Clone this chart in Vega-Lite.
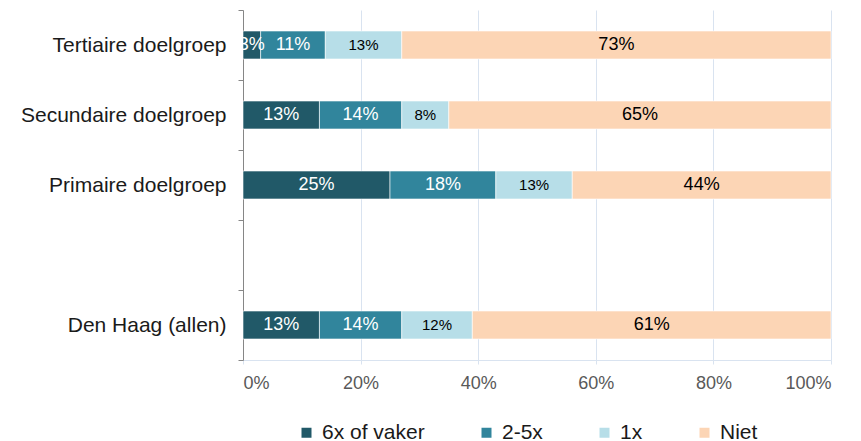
{
  "$schema": "https://vega.github.io/schema/vega-lite/v6.json",
  "width": 588,
  "height": 350,
  "padding": {"left": 20, "top": -1, "right": 5, "bottom": 0},
  "data": {
    "values": [
      {"groep": "Tertiaire doelgroep", "serie": "6x of vaker", "waarde": 0.03},
      {"groep": "Tertiaire doelgroep", "serie": "2-5x", "waarde": 0.11},
      {"groep": "Tertiaire doelgroep", "serie": "1x", "waarde": 0.13},
      {"groep": "Tertiaire doelgroep", "serie": "Niet", "waarde": 0.73},
      {"groep": "Secundaire doelgroep", "serie": "6x of vaker", "waarde": 0.13},
      {"groep": "Secundaire doelgroep", "serie": "2-5x", "waarde": 0.14},
      {"groep": "Secundaire doelgroep", "serie": "1x", "waarde": 0.08},
      {"groep": "Secundaire doelgroep", "serie": "Niet", "waarde": 0.65},
      {"groep": "Primaire doelgroep", "serie": "6x of vaker", "waarde": 0.25},
      {"groep": "Primaire doelgroep", "serie": "2-5x", "waarde": 0.18},
      {"groep": "Primaire doelgroep", "serie": "1x", "waarde": 0.13},
      {"groep": "Primaire doelgroep", "serie": "Niet", "waarde": 0.44},
      {"groep": "Den Haag (allen)", "serie": "6x of vaker", "waarde": 0.13},
      {"groep": "Den Haag (allen)", "serie": "2-5x", "waarde": 0.14},
      {"groep": "Den Haag (allen)", "serie": "1x", "waarde": 0.12},
      {"groep": "Den Haag (allen)", "serie": "Niet", "waarde": 0.61}
    ]
  },
  "transform": [
    {"calculate": "indexof(['6x of vaker','2-5x','1x','Niet'], datum.serie)", "as": "volg"},
    {"stack": "waarde", "groupby": ["groep"], "sort": [{"field": "volg", "order": "ascending"}], "as": ["x0", "x1"]},
    {"calculate": "(datum.x0 + datum.x1) / 2", "as": "xm"}
  ],
  "encoding": {
    "y": {
      "field": "groep",
      "type": "nominal",
      "title": null,
      "scale": {
        "domain": ["Tertiaire doelgroep", "Secundaire doelgroep", "Primaire doelgroep", " ", "Den Haag (allen)"],
        "paddingInner": 0,
        "paddingOuter": 0
      },
      "axis": {
        "tickBand": "extent",
        "domainColor": "#868686",
        "tickColor": "#868686",
        "tickSize": 5,
        "labelPadding": 12,
        "labelFontSize": 21,
        "labelLimit": 400,
        "labelColor": "#1a1a1a",
        "labelFont": "Liberation Sans",
        "grid": false
      }
    }
  },
  "layer": [
    {
      "mark": {"type": "bar", "size": 28, "stroke": "white", "strokeWidth": 0.6},
      "encoding": {
        "x": {
          "field": "x0",
          "type": "quantitative",
          "title": null,
          "scale": {"domain": [0, 1]},
          "axis": {
            "values": [0, 0.2, 0.4, 0.6, 0.8, 1],
            "format": ".0%",
            "grid": true,
            "gridColor": "#D9E3F0",
            "domainColor": "#D9E3F0",
            "tickColor": "#D9E3F0",
            "tickSize": 4,
            "labelPadding": 10,
            "labelFontSize": 18,
            "labelColor": "#595959",
            "labelFont": "Liberation Sans"
          }
        },
        "x2": {"field": "x1"},
        "color": {
          "field": "serie",
          "type": "nominal",
          "scale": {
            "domain": ["6x of vaker", "2-5x", "1x", "Niet"],
            "range": ["#215968", "#31859C", "#B7DEE8", "#FCD5B5"]
          },
          "legend": {
            "orient": "none",
            "legendX": 53,
            "legendY": 412,
            "direction": "horizontal",
            "title": null,
            "symbolType": "square",
            "symbolSize": 100,
            "symbolStrokeWidth": 0,
            "labelFontSize": 21,
            "labelFont": "Liberation Sans",
            "labelColor": "#1a1a1a",
            "labelOffset": 5,
            "columnPadding": 51
          }
        }
      }
    },
    {
      "mark": {"type": "text", "font": "Liberation Sans", "baseline": "middle", "align": "center"},
      "encoding": {
        "x": {"field": "xm", "type": "quantitative"},
        "text": {"field": "waarde", "type": "quantitative", "format": ".0%"},
        "color": {
          "condition": {"test": "datum.serie == '1x' || datum.serie == 'Niet'", "value": "#000000"},
          "value": "#ffffff"
        },
        "size": {
          "condition": {"test": "datum.serie == '1x'", "value": 15},
          "value": 18
        }
      }
    }
  ],
  "config": {
    "view": {"stroke": null},
    "font": "Liberation Sans"
  }
}
